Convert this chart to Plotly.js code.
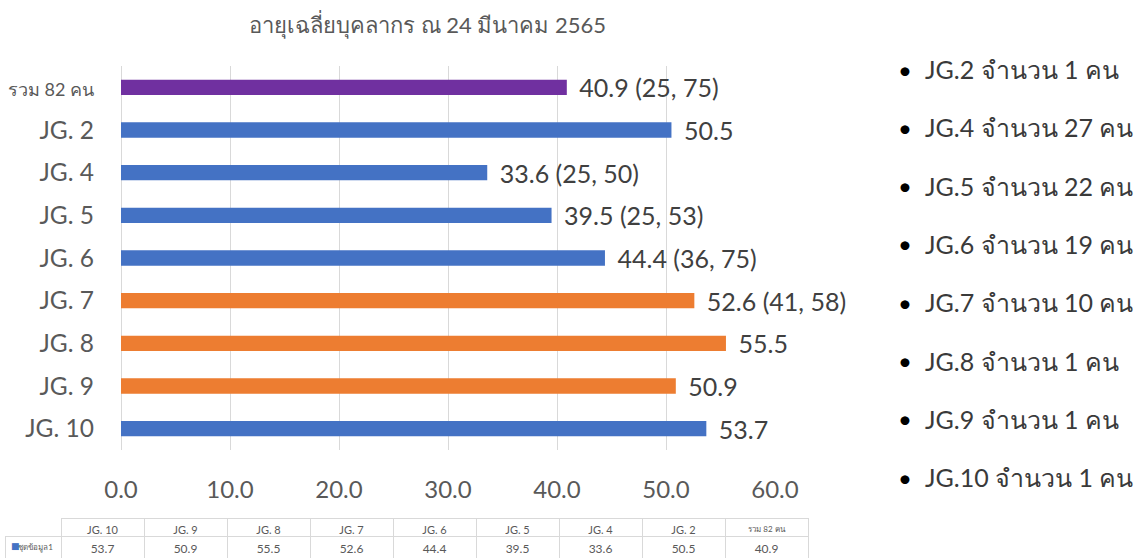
<!DOCTYPE html>
<html>
<head>
<meta charset="utf-8">
<script src="https://cdn.plot.ly/plotly-3.0.1.min.js"></script>
<style>
  html, body { margin: 0; padding: 0; background: #fff; }
  #chart { width: 1137px; height: 559px; }
</style>
</head>
<body>
<div id="chart"></div>
<script>
// ---- data ----
const categories = ['รวม 82 คน', 'JG. 2', 'JG. 4', 'JG. 5', 'JG. 6', 'JG. 7', 'JG. 8', 'JG. 9', 'JG. 10'];
const meanAge = [40.9, 50.5, 33.6, 39.5, 44.4, 52.6, 55.5, 50.9, 53.7];
const minAge = [25, null, 25, 25, 36, 41, null, null, null];
const maxAge = [75, null, 50, 53, 75, 58, null, null, null];
const barColors = ['#7030A0', '#4472C4', '#4472C4', '#4472C4', '#4472C4', '#ED7D31', '#ED7D31', '#ED7D31', '#4472C4'];
const xTicks = [0, 10, 20, 30, 40, 50, 60];
const listGroups = ['JG.2', 'JG.4', 'JG.5', 'JG.6', 'JG.7', 'JG.8', 'JG.9', 'JG.10'];
const listCounts = [1, 27, 22, 19, 10, 1, 1, 1];
const seriesName = 'ชุดข้อมูล1';
const titleText = 'อายุเฉลี่ยบุคลากร ณ 24 มีนาคม 2565';

// ---- layout helpers ----
const W = 1137, H = 559;
const px = x => x / W;
const py = y => 1 - y / H;
const FONT = 'Lato, "Noto Sans", "DejaVu Sans", sans-serif';

const labels = meanAge.map((v, i) =>
  '\u00a0\u2009' + v.toFixed(1) + (minAge[i] != null ? ' (' + minAge[i] + ', ' + maxAge[i] + ')' : ''));

const tickText = categories.map((c, i) =>
  i === 0 ? '<span style="font-size:18px">' + c + '</span>' : c);

const bar = {
  type: 'bar',
  orientation: 'h',
  x: meanAge,
  y: categories,
  marker: { color: barColors },
  width: 0.36,
  text: labels,
  textposition: 'outside',
  constraintext: 'none',
  cliponaxis: false,
  textfont: { size: 25, color: '#404040', family: FONT },
  hoverinfo: 'x+y',
  xaxis: 'x', yaxis: 'y'
};

// table below chart (reversed order)
const revCats = categories.slice().reverse();
const revVals = meanAge.slice().reverse();
const table = {
  type: 'table',
  domain: { x: [px(5), px(808)], y: [py(558), py(518)] },
  columnwidth: [56].concat(revCats.map(() => 83)),
  header: {
    values: [''].concat(revCats),
    height: 18,
    align: 'center',
    fill: { color: '#ffffff' },
    line: { color: ['rgba(0,0,0,0)'].concat(revCats.map(() => '#d9d9d9')), width: 1 },
    font: { family: FONT, color: '#595959',
            size: [8].concat(revCats.map((c, i) => i === revCats.length - 1 ? 8 : 11)) }
  },
  cells: {
    values: [[seriesName]].concat(revVals.map(v => [v.toFixed(1)])),
    height: 22,
    align: ['right'].concat(revVals.map(() => 'center')),
    fill: { color: '#ffffff' },
    line: { color: '#d9d9d9', width: 1 },
    font: { family: FONT, color: '#595959', size: [8].concat(revVals.map(() => 12)) }
  }
};

const annotations = [
  { xref: 'paper', yref: 'paper', x: px(427), y: py(25), xanchor: 'center', yanchor: 'middle',
    text: titleText, showarrow: false, font: { size: 22, color: '#595959', family: FONT } },
  { xref: 'paper', yref: 'paper', x: px(15), y: py(546), xanchor: 'center', yanchor: 'middle',
    text: '■', showarrow: false, font: { size: 9, color: '#4472C4', family: '"DejaVu Sans", sans-serif' } }
];
listGroups.forEach((g, i) => {
  const y = py(69 + 58.3 * i);
  annotations.push({ xref: 'paper', yref: 'paper', x: px(905), y: y, xanchor: 'center', yanchor: 'middle',
    text: '•', showarrow: false, font: { size: 24, color: '#000000', family: FONT } });
  annotations.push({ xref: 'paper', yref: 'paper', x: px(923), y: y, xanchor: 'left', yanchor: 'middle',
    text: g + ' จำนวน ' + listCounts[i] + ' คน', showarrow: false,
    font: { size: 25, color: '#3a3a3a', family: FONT } });
});

const layout = {
  width: W, height: H,
  margin: { l: 0, r: 0, t: 0, b: 0 },
  paper_bgcolor: '#ffffff',
  plot_bgcolor: '#ffffff',
  showlegend: false,
  font: { family: FONT, color: '#595959' },
  xaxis: {
    domain: [px(121), px(775)],
    range: [0, 60],
    tickvals: xTicks,
    tickformat: '.1f',
    showgrid: true,
    gridcolor: '#d9d9d9',
    zeroline: true,
    zerolinecolor: '#d9d9d9',
    zerolinewidth: 1,
    showline: false,
    ticks: '',
    ticklabelstandoff: 23,
    tickfont: { size: 24, color: '#595959', family: FONT },
    fixedrange: true
  },
  yaxis: {
    domain: [py(450), py(66)],
    type: 'category',
    autorange: 'reversed',
    tickvals: categories,
    ticktext: tickText,
    showgrid: false,
    zeroline: false,
    showline: false,
    ticks: '',
    ticklabelstandoff: 26,
    tickfont: { size: 24.5, color: '#595959', family: FONT },
    fixedrange: true
  },
  annotations: annotations
};

Plotly.newPlot('chart', [bar, table], layout, { displayModeBar: false, staticPlot: true });
</script>
</body>
</html>
